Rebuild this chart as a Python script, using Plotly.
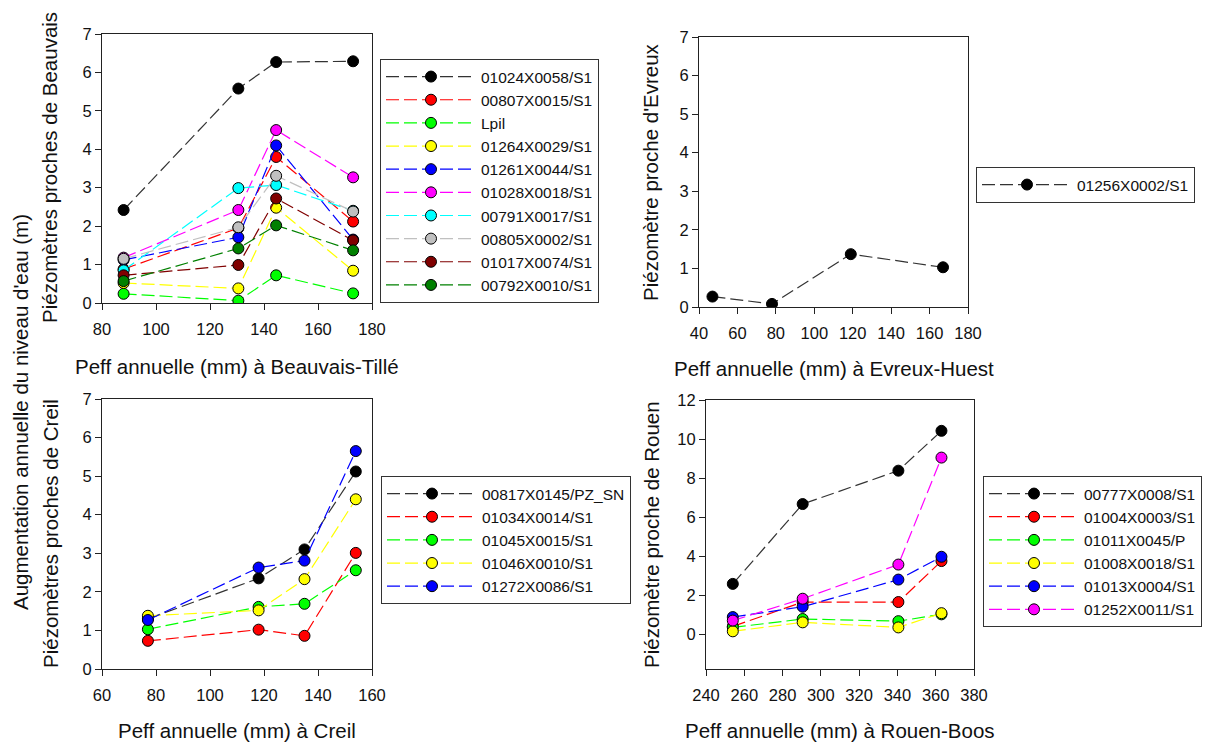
import plotly.graph_objects as go

# ---------------- data ----------------
beauvais_x = [88, 130.5, 144.5, 173]
beauvais_names = ["01024X0058/S1", "00807X0015/S1", "Lpil", "01264X0029/S1", "01261X0044/S1",
                  "01028X0018/S1", "00791X0017/S1", "00805X0002/S1", "01017X0074/S1", "00792X0010/S1"]
beauvais_y = [
    [2.42, 5.58, 6.27, 6.29],
    [0.88, 1.95, 3.80, 2.12],
    [0.24, 0.06, 0.72, 0.25],
    [0.52, 0.38, 2.48, 0.84],
    [1.12, 1.71, 4.10, 1.65],
    [1.18, 2.42, 4.50, 3.27],
    [0.85, 2.99, 3.07, 2.40],
    [1.15, 1.97, 3.31, 2.38],
    [0.72, 0.99, 2.72, 1.63],
    [0.57, 1.42, 2.02, 1.37],
]
beauvais_colors = ["#000000", "#ff0000", "#00ff00", "#ffff00", "#0000ff",
                   "#ff00ff", "#00ffff", "#c0c0c0", "#800000", "#008000"]

evreux_x = [47, 78, 119, 167]
evreux_names = ["01256X0002/S1"]
evreux_y = [[0.27, 0.08, 1.37, 1.03]]
evreux_colors = ["#000000"]

creil_x = [77, 118, 135, 154]
creil_names = ["00817X0145/PZ_SN", "01034X0014/S1", "01045X0015/S1", "01046X0010/S1", "01272X0086/S1"]
creil_y = [
    [1.30, 2.35, 3.10, 5.12],
    [0.73, 1.02, 0.86, 3.01],
    [1.03, 1.61, 1.69, 2.56],
    [1.38, 1.52, 2.33, 4.40],
    [1.27, 2.63, 2.81, 5.65],
]
creil_colors = ["#000000", "#ff0000", "#00ff00", "#ffff00", "#0000ff"]

rouen_x = [254, 290.5, 340.5, 363]
rouen_names = ["00777X0008/S1", "01004X0003/S1", "01011X0045/P", "01008X0018/S1", "01013X0004/S1", "01252X0011/S1"]
rouen_y = [
    [2.58, 6.67, 8.38, 10.42],
    [0.40, 1.65, 1.65, 3.75],
    [0.35, 0.78, 0.67, 1.02],
    [0.15, 0.61, 0.35, 1.08],
    [0.88, 1.41, 2.80, 3.97],
    [0.70, 1.82, 3.57, 9.05],
]
rouen_colors = ["#000000", "#ff0000", "#00ff00", "#ffff00", "#0000ff", "#ff00ff"]

# ---------------- figure ----------------
W, H = 1211, 742
FONT = "Liberation Sans, Arial, sans-serif"
fig = go.Figure()

def line_color(c):
    return "#333333" if c == "#000000" else c

panels = [
    (beauvais_x, beauvais_y, beauvais_names, beauvais_colors, "x", "y", "legend"),
    (evreux_x, evreux_y, evreux_names, evreux_colors, "x2", "y2", "legend2"),
    (creil_x, creil_y, creil_names, creil_colors, "x3", "y3", "legend3"),
    (rouen_x, rouen_y, rouen_names, rouen_colors, "x4", "y4", "legend4"),
]
for xs, ys, names, cols, xa, ya, lg in panels:
    for name, yv, c in zip(names, ys, cols):
        fig.add_trace(go.Scatter(
            x=xs, y=yv, name=name, mode="lines+markers",
            xaxis=xa, yaxis=ya, legend=lg,
            line=dict(color=line_color(c), width=1.2, dash="13px,5px"),
            marker=dict(symbol="circle", size=11, color=c,
                        line=dict(color="#000000", width=1)),
        ))

def px_dom_x(a, b):
    return [a / W, b / W]

def px_dom_y(top, bottom):
    return [1 - bottom / H, 1 - top / H]

axis_common = dict(showline=True, linecolor="#222222", linewidth=1, mirror=True,
                   ticks="outside", ticklen=6, tickcolor="#222222", tickwidth=1,
                   showgrid=False, zeroline=False,
                   tickfont=dict(family=FONT, size=16.5, color="#111111"))
xstand = 5
ystand = 0

fig.update_layout(
    xaxis=dict(domain=px_dom_x(102, 372), range=[80, 180], tickvals=[80, 100, 120, 140, 160, 180],
               anchor="y", ticklabelstandoff=xstand, **axis_common),
    yaxis=dict(domain=px_dom_y(34, 303), range=[0, 7], tickvals=list(range(0, 8)),
               anchor="x", ticklabelstandoff=ystand, **axis_common),
    xaxis2=dict(domain=px_dom_x(699, 968), range=[40, 180], tickvals=list(range(40, 181, 20)),
                anchor="y2", ticklabelstandoff=xstand, **axis_common),
    yaxis2=dict(domain=px_dom_y(37, 307), range=[0, 7], tickvals=list(range(0, 8)),
                anchor="x2", ticklabelstandoff=ystand, **axis_common),
    xaxis3=dict(domain=px_dom_x(102, 372), range=[60, 160], tickvals=list(range(60, 161, 20)),
                anchor="y3", ticklabelstandoff=xstand, **axis_common),
    yaxis3=dict(domain=px_dom_y(399, 669), range=[0, 7], tickvals=list(range(0, 8)),
                anchor="x3", ticklabelstandoff=ystand, **axis_common),
    xaxis4=dict(domain=px_dom_x(706, 974), range=[240, 380], tickvals=list(range(240, 381, 20)),
                anchor="y4", ticklabelstandoff=xstand, **axis_common),
    yaxis4=dict(domain=px_dom_y(400, 669), range=[-1.78, 12], tickvals=list(range(0, 13, 2)),
                anchor="x4", ticklabelstandoff=ystand, **axis_common),
)

leg_common = dict(bgcolor="white", bordercolor="#333333", borderwidth=1,
                  font=dict(family=FONT, size=15.5, color="#111111"),
                  xanchor="left", yanchor="top", itemwidth=90, tracegroupgap=0,
                  xref="paper", yref="paper")
fig.update_layout(
    legend=dict(x=380 / W, y=1 - 59 / H, **leg_common),
    legend2=dict(x=976 / W, y=1 - 167 / H, **leg_common),
    legend3=dict(x=381 / W, y=1 - 476 / H, **leg_common),
    legend4=dict(x=983 / W, y=1 - 476 / H, **leg_common),
)

title_font = dict(family=FONT, size=20.5, color="#111111")
annots = [
    ("Peff annuelle (mm) à Beauvais-Tillé", 237, 366, 0),
    ("Peff annuelle (mm) à Evreux-Huest", 834, 368, 0),
    ("Peff annuelle (mm) à Creil", 237, 730, 0),
    ("Peff annuelle (mm) à Rouen-Boos", 840, 730, 0),
    ("Piézomètres proches de Beauvais", 50, 168, -90),
    ("Piézomètre proche d'Evreux", 650, 172, -90),
    ("Piézomètres proches de Creil", 50, 534, -90),
    ("Piézomètre proche de Rouen", 651, 535, -90),
    ("Augmentation annuelle du niveau d'eau (m)", 20, 412, -90),
]
fig.update_layout(annotations=[
    dict(text=t, x=xp / W, y=1 - yp / H, xref="paper", yref="paper",
         showarrow=False, textangle=ang, font=title_font,
         xanchor="center", yanchor="middle")
    for t, xp, yp, ang in annots
])

fig.update_layout(width=W, height=H, margin=dict(l=0, r=0, t=0, b=0, autoexpand=False),
                  paper_bgcolor="white", plot_bgcolor="white",
                  font=dict(family=FONT))

fig.write_html("out.html",
               config={"displayModeBar": False},
               post_script="document.body.style.margin='0';document.body.style.overflow='hidden';")
